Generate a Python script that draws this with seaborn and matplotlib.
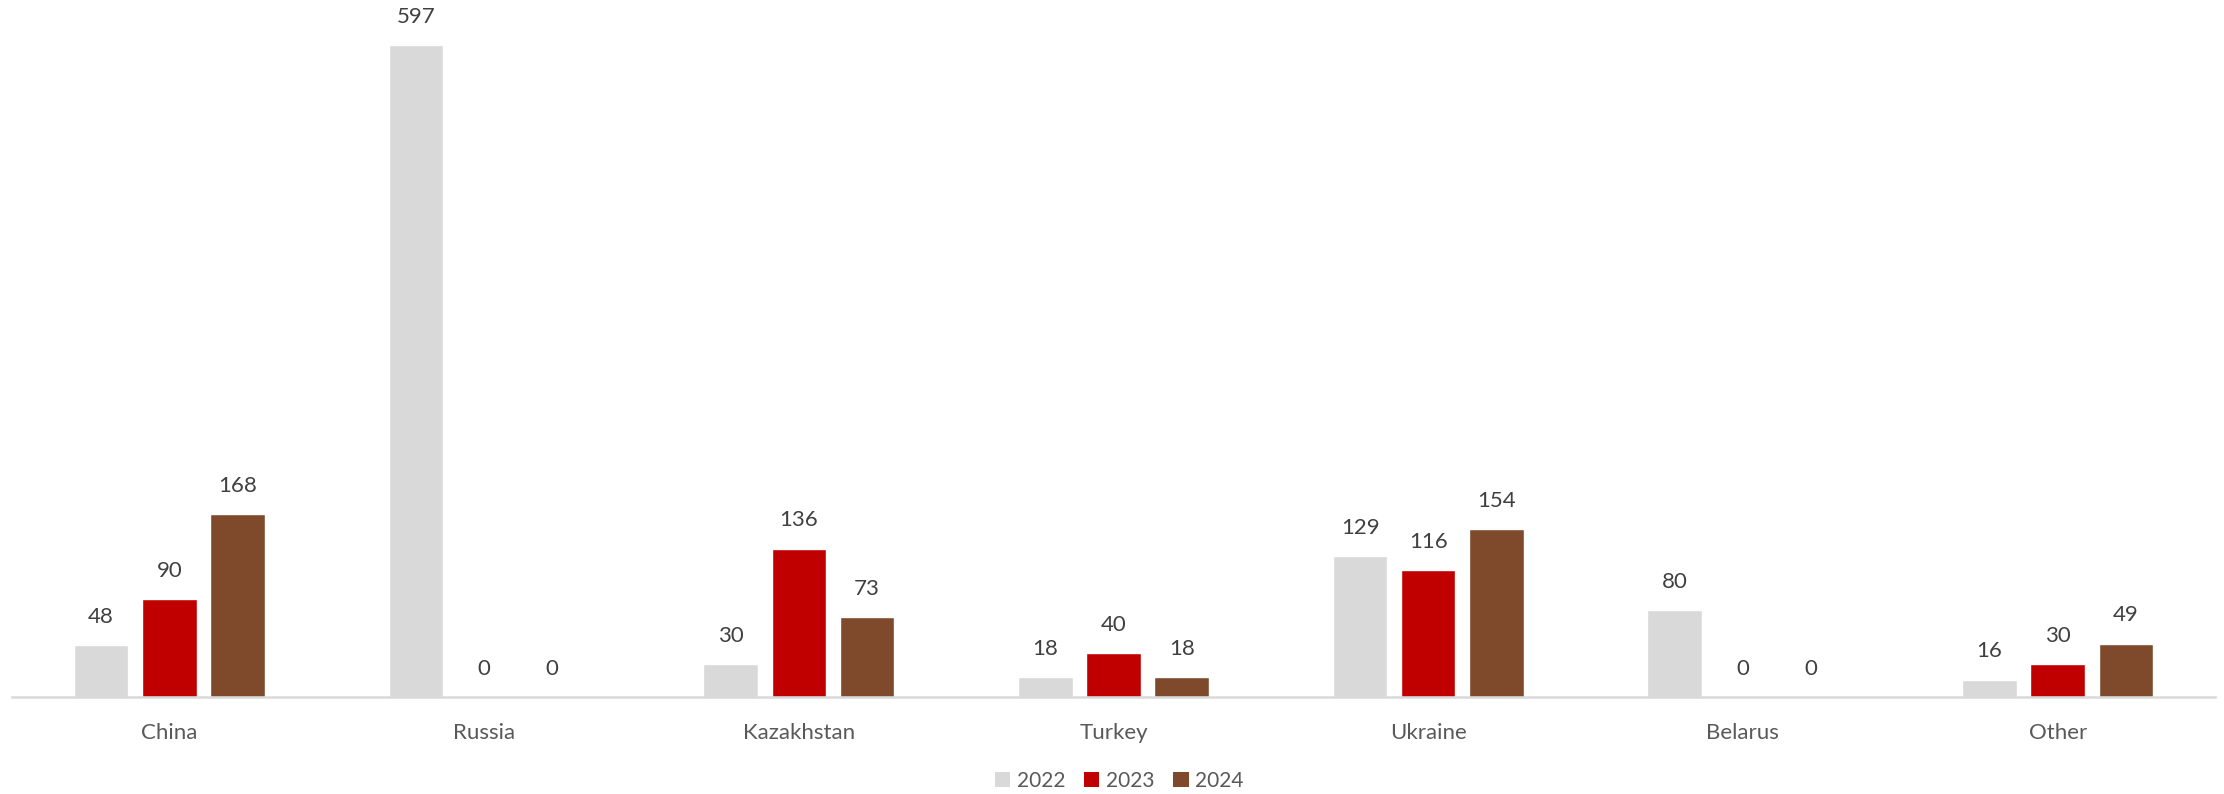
import matplotlib
matplotlib.use("Agg")
import matplotlib.pyplot as plt
import seaborn as sns
import pandas as pd
from matplotlib.patches import Patch

countries = ["China", "Russia", "Kazakhstan", "Turkey", "Ukraine", "Belarus", "Other"]
years = ["2022", "2023", "2024"]
v2022 = [48, 597, 30, 18, 129, 80, 16]
v2023 = [90, 0, 136, 40, 116, 0, 30]
v2024 = [168, 0, 73, 18, 154, 0, 49]
colors = ["#D9D9D9", "#C00000", "#7F4A2C"]

rows = []
for yr, vals in zip(years, [v2022, v2023, v2024]):
    for c, v in zip(countries, vals):
        rows.append({"country": c, "year": yr, "value": v})
df = pd.DataFrame(rows)

sns.set_theme(style="white")
plt.rcParams["font.family"] = ["Lato", "DejaVu Sans"]

fig = plt.figure(figsize=(22.24, 7.94), dpi=100)
ax = fig.add_axes([12 / 2224, 1 - 697 / 794, 2203 / 2224, 697 / 794])

sns.barplot(data=df, x="country", y="value", hue="year", order=countries,
            hue_order=years, palette=colors, width=0.65, gap=0.2,
            saturation=1, ax=ax, legend=False, errorbar=None)

for cont in ax.containers:
    ax.bar_label(cont, labels=[f"{int(b.get_height())}" for b in cont],
                 padding=13, fontsize=16, color="#404040")

ax.set_xlim(-0.5, 6.5)
ax.set_ylim(0, 638.5)
ax.set_xlabel("")
ax.set_ylabel("")
ax.set_yticks([])
for s in ["top", "right", "left"]:
    ax.spines[s].set_visible(False)
ax.spines["bottom"].set_color("#D9D9D9")
ax.spines["bottom"].set_linewidth(1.8)
ax.tick_params(axis="x", length=0, pad=19, labelsize=16, labelcolor="#595959")

handles = [Patch(facecolor=c, edgecolor="none", label=y) for c, y in zip(colors, years)]
fig.legend(handles=handles, loc="center", bbox_to_anchor=(1119 / 2224, 1 - 781 / 794),
           ncol=3, frameon=False, fontsize=15, handlelength=0.75, handleheight=0.75,
           handletextpad=0.3, columnspacing=0.9, labelcolor="#595959")

fig.savefig("out.png", dpi=100)
